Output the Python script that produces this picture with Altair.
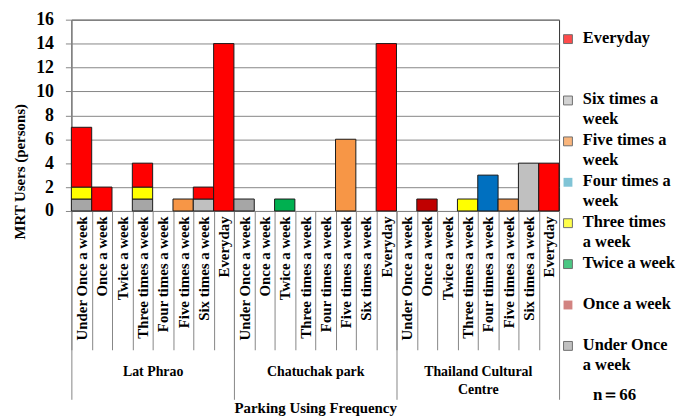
import altair as alt
import pandas as pd

# Parking locations and the parking-frequency categories shown under each
groups = ["Lat Phrao", "Chatuchak park", "Thailand Cultural Centre"]
parking = [
    "Under Once a week", "Once a week", "Twice a week", "Three times a week",
    "Four times a week", "Five times a week", "Six times a week", "Everyday",
]

# MRT usage frequency series (stacked bottom to top in this order)
mrt_series = [
    "Under Once a week", "Once a week", "Twice a week", "Three times a week",
    "Four times a week", "Five times a week", "Six times a week", "Everyday",
]

# Persons per series: 8 parking categories for each location, location by location
under_once = [1, 0, 0, 1, 0, 0, 0, 0,   1, 0, 0, 0, 0, 0, 0, 0,   0, 0, 0, 0, 0, 0, 0, 0]
once       = [0, 0, 0, 0, 0, 0, 0, 0,   0, 0, 0, 0, 0, 0, 0, 0,   0, 1, 0, 0, 0, 0, 0, 0]
twice      = [0, 0, 0, 0, 0, 0, 0, 0,   0, 0, 1, 0, 0, 0, 0, 0,   0, 0, 0, 0, 0, 0, 0, 0]
three      = [1, 0, 0, 1, 0, 0, 0, 0,   0, 0, 0, 0, 0, 0, 0, 0,   0, 0, 0, 1, 0, 0, 0, 0]
four       = [0, 0, 0, 0, 0, 0, 0, 0,   0, 0, 0, 0, 0, 0, 0, 0,   0, 0, 0, 0, 3, 0, 0, 0]
five       = [0, 0, 0, 0, 0, 1, 0, 0,   0, 0, 0, 0, 0, 6, 0, 0,   0, 0, 0, 0, 0, 1, 0, 0]
six        = [0, 0, 0, 0, 0, 0, 1, 0,   0, 0, 0, 0, 0, 0, 0, 0,   0, 0, 0, 0, 0, 0, 4, 0]
everyday   = [5, 2, 0, 2, 0, 0, 1, 14,  0, 0, 0, 0, 0, 0, 0, 14,  0, 0, 0, 0, 0, 0, 0, 4]
series_values = [under_once, once, twice, three, four, five, six, everyday]

bar_colors = ["#a6a6a6", "#c00000", "#00b050", "#ffff00", "#0070c0", "#f79646", "#c0c0c0", "#ff0000"]
legend_colors = ["#a6a6a6", "#c0504d", "#00b050", "#ffff00", "#4bacc6", "#f79646", "#c0c0c0", "#ff0000"]
legend_text = [
    "Under Once\na week", "Once a week", "Twice a week", "Three times\na week",
    "Four times a\nweek", "Five times a\nweek", "Six times a\nweek", "Everyday",
]
no_border = ["Once a week", "Four times a week"]
sample_note = "n\uff1d66"

FONT = "Liberation Serif"
GRAY = "#868686"

# Long table for the stacked bars
slot_order = [f"{g}|{c}" for g in groups for c in parking]
rows = []
for k, slot in enumerate(slot_order):
    for s, (name, vals) in enumerate(zip(mrt_series, series_values)):
        if vals[k] > 0:
            rows.append({"slot": slot, "series": name, "rank": s, "count": vals[k]})
bars_df = pd.DataFrame(rows)

bars = alt.Chart(bars_df).mark_bar(stroke="#1a1a1a", strokeWidth=1).encode(
    x=alt.X(
        "slot:N", sort=slot_order,
        scale=alt.Scale(domain=slot_order, paddingInner=0, paddingOuter=0),
        axis=alt.Axis(
            title=None, labelExpr="split(datum.label, '|')[1]",
            labelAngle=-90, labelFont=FONT, labelFontWeight="bold", labelFontSize=15,
            labelColor="black", tickBand="extent", tickSize=140, tickColor=GRAY,
            labelPadding=-135, domainColor=GRAY, grid=False,
        ),
    ),
    y=alt.Y(
        "count:Q", stack="zero",
        scale=alt.Scale(domain=[0, 16], nice=False),
        axis=alt.Axis(
            values=list(range(0, 17, 2)), title="MRT Users (persons)",
            titleFont=FONT, titleFontWeight="bold", titleFontSize=15, titleColor="black",
            titlePadding=8, titleY=153, labelFont=FONT, labelFontWeight="bold", labelFontSize=18,
            labelColor="black", labelPadding=12, tickSize=6, tickColor=GRAY,
            domainColor=GRAY, gridColor=GRAY,
        ),
    ),
    color=alt.Color("series:N", scale=alt.Scale(domain=mrt_series, range=bar_colors), legend=None),
    order=alt.Order("rank:Q"),
)

# Location axis below the category labels
group_layer = alt.Chart(pd.DataFrame({"group": groups})).mark_tick(opacity=0).encode(
    x=alt.X(
        "group:N", sort=groups,
        scale=alt.Scale(type="band", domain=groups, paddingInner=0, paddingOuter=0),
        axis=alt.Axis(
            orient="bottom", title="Parking Using Frequency",
            titleFont=FONT, titleFontWeight="bold", titleFontSize=15, titleColor="black",
            titlePadding=1, labelAngle=0, labelFont=FONT, labelFontWeight="bold",
            labelFontSize=14, labelColor="black", labelLineHeight=18,
            labelExpr="datum.label == 'Thailand Cultural Centre' ? ['Thailand Cultural', 'Centre'] : datum.label",
            tickBand="extent", tickSize=190, tickColor=GRAY, labelPadding=-35,
            domain=False, grid=False,
        ),
    ),
)

main = alt.layer(bars, group_layer).resolve_scale(x="independent").resolve_axis(x="independent").properties(
    width=492, height=193, view=alt.ViewBackground(stroke="#333333", strokeWidth=1)
)

# Hand-built legend column
legend_slots = [
    "Everyday", "_s1", "_s2", "Six times a week", "_s3", "Five times a week", "_s4",
    "Four times a week", "_s5", "Three times a week", "_s6", "Twice a week", "_s7",
    "Once a week", "_s8", "Under Once a week", "_s9", "note",
]
legend_df = pd.DataFrame({
    "slot": mrt_series,
    "text": legend_text,
    "border": [0 if n in no_border else 1 for n in mrt_series],
})
ly = alt.Y("slot:N", scale=alt.Scale(type="point", domain=legend_slots, padding=0.95), axis=None)

swatches = alt.Chart(legend_df).mark_square(size=80, strokeWidth=1).encode(
    x=alt.value(7), y=ly,
    fill=alt.Color("slot:N", scale=alt.Scale(domain=mrt_series, range=legend_colors), legend=None),
    stroke=alt.condition("datum.border == 1", alt.value("#333333"), alt.value("transparent")),
)
labels = alt.Chart(legend_df).mark_text(
    align="left", baseline="top", dy=-9, font=FONT, fontWeight="bold", fontSize=16.5,
    lineHeight=20, lineBreak="\n", color="black",
).encode(x=alt.value(22), y=ly, text="text:N")
note = alt.Chart(pd.DataFrame({"slot": ["note"], "text": [sample_note]})).mark_text(
    align="center", baseline="middle", dy=8, font=FONT, fontWeight="bold", fontSize=17, color="black",
).encode(x=alt.value(54), y=ly, text="text:N")

legend = alt.layer(swatches, labels, note).properties(
    width=117, height=390, view=alt.ViewBackground(stroke="transparent")
)

chart = alt.hconcat(main, legend, spacing=0).properties(
    padding={"left": 12, "top": 8, "right": 0, "bottom": 0}
)

chart.save("out.html", embed_options={"renderer": "svg", "actions": False})
